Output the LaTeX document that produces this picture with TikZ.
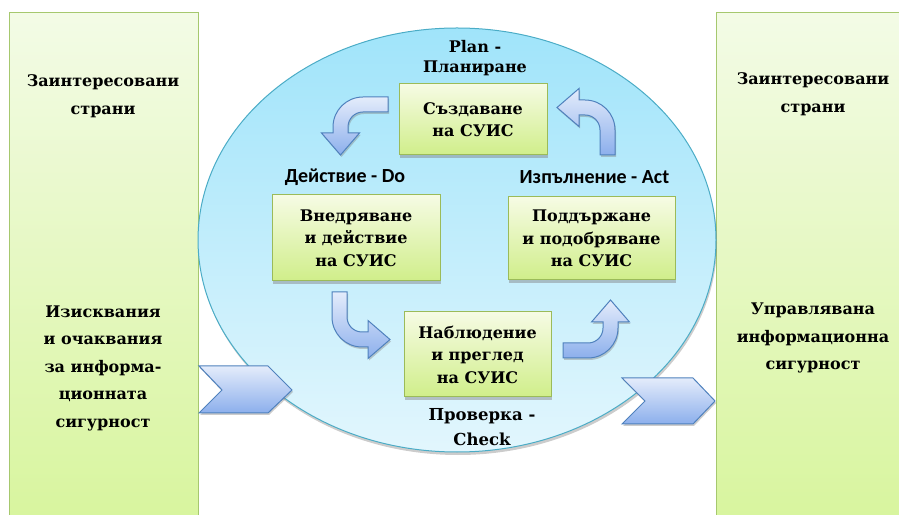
\documentclass[tikz,border=0pt]{standalone}
\usepackage{fontspec}
\setmainfont{DejaVu Serif}
\newfontfamily\tnrfont{DejaVu Serif}
\newfontfamily\calfont{Carlito}
\usetikzlibrary{shapes.geometric,shadows}
\definecolor{pnlt}{RGB}{243, 251, 230}
\definecolor{pnlbot}{RGB}{216, 245, 158}
\definecolor{pnlb}{RGB}{166, 200, 110}
\definecolor{boxt}{RGB}{246, 251, 228}
\definecolor{boxbot}{RGB}{208, 238, 138}
\definecolor{boxb}{RGB}{155, 187, 89}
\definecolor{skyt}{RGB}{160, 228, 250}
\definecolor{skybot}{RGB}{226, 246, 253}
\definecolor{skyb}{RGB}{75, 172, 198}
\definecolor{arrt}{RGB}{228, 236, 251}
\definecolor{arrbot}{RGB}{140, 175, 236}
\definecolor{arrb}{RGB}{79, 129, 189}
\newcommand\boxfont{\tnrfont\fontsize{16}{22.5}\selectfont\bfseries}
\newcommand\sidefont{\tnrfont\fontsize{16}{27.5}\selectfont\bfseries}
\newcommand\phasefont{\calfont\fontsize{20}{22}\selectfont\bfseries}
\tikzset{
  bendarrow/.pic={
    \draw[line width=1pt,draw=arrb,top color=arrt,bottom color=arrbot,
      drop shadow={shadow xshift=1pt,shadow yshift=-2pt,opacity=.4}]
      (55,0) -- (30,0) .. controls (13.4,0) and (0,-13.4) .. (0,-30)
      -- (0,-36) -- (-11.5,-36) -- (7.5,-58) -- (26.5,-36) -- (15,-36)
      -- (15,-30) .. controls (15,-21.7) and (21.7,-15) .. (30,-15)
      -- (55,-15) -- cycle;
  }
}
\begin{document}
\begin{tikzpicture}[x=1pt,y=1pt,
    panel/.style={draw=pnlb,line width=1pt,top color=pnlt,bottom color=pnlbot},
    stage/.style={draw=boxb,line width=1pt,top color=boxt,bottom color=boxbot,
      align=center,inner sep=0pt,font=\boxfont,
      drop shadow={shadow xshift=1pt,shadow yshift=-3pt,opacity=.45}},
    chevron/.style={draw=arrb,line width=1pt,top color=arrt,bottom color=arrbot,
      drop shadow={shadow xshift=1pt,shadow yshift=-2pt,opacity=.4}},
    side/.style={align=center,font=\sidefont},
    phase/.style={align=center,font=\phasefont}]
  \clip (0,0) rectangle (899,514);

  \draw[panel] (9,-6) rectangle (198,501);
  \draw[panel] (716,-6) rectangle (910,501);

  \node (cycle) at (457,274) [ellipse,draw=skyb,line width=1pt,top color=skyt,
    bottom color=skybot,minimum width=518,minimum height=424,inner sep=0pt,
    drop shadow={shadow xshift=1pt,shadow yshift=-3pt,opacity=.4}] {};

  \draw[chevron] (199,148) -- (268,148) -- (292,124) -- (268,101) -- (199,101) -- (222,124) -- cycle;
  \draw[chevron] (622,136) -- (693,136) -- (715,113) -- (693,90) -- (622,90) -- (645,113) -- cycle;

  \node[stage,minimum width=148,minimum height=71] (plan)  at (473,394.5) {Създаване\\на СУИС};
  \node[stage,minimum width=168,minimum height=86] (do)    at (356,276)   {Внедряване\\и действие\\на СУИС};
  \node[stage,minimum width=167,minimum height=83] (act)   at (591.5,275.5) {Поддържане\\и подобряване\\на СУИС};
  \node[stage,minimum width=147,minimum height=85] (check) at (477.5,159.5) {Наблюдение\\и преглед\\на СУИС};

  \pic (toDo)    at (333,417)             {bendarrow};
  \pic (toPlan)  at (615,414) [rotate=-90] {bendarrow};
  \pic (toCheck) at (332,167) [rotate=90]  {bendarrow};
  \pic (toAct)   at (618,156) [rotate=180] {bendarrow};

  \node[phase,font=\tnrfont\fontsize{16}{20}\selectfont\bfseries] (planLbl) at (475,456) {Plan -\\Планиране};
  \node[phase] (doLbl)  at (345,337)   {Действие - Do};
  \node[phase] (actLbl) at (594.5,337) {Изпълнение - Act};
  \node[phase,font=\tnrfont\fontsize{16.5}{25}\selectfont\bfseries] (checkLbl) at (482,86.5) {Проверка -\\Check};

  \node[side] (partiesIn)  at (103,418) {Заинтересовани\\страни};
  \node[side] (needs)      at (103,146) {Изисквания\\и очаквания\\за информа-\\ционната\\сигурност};
  \node[side] (partiesOut) at (813,420) {Заинтересовани\\страни};
  \node[side] (secured)    at (813,176) {Управлявана\\информационна\\сигурност};
\end{tikzpicture}
\end{document}
